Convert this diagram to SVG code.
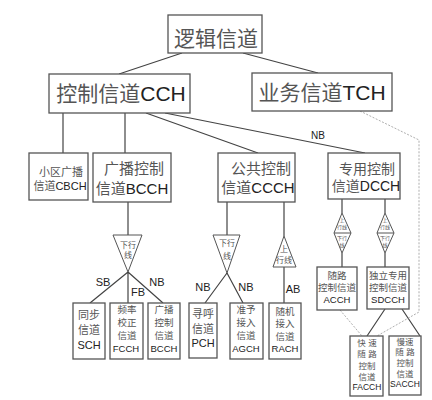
<svg xmlns="http://www.w3.org/2000/svg" width="432" height="400" viewBox="0 0 432 400">
<style>
.box{fill:#fff;stroke:#555;stroke-width:1.3}
.ln{stroke:#444;stroke-width:1.2;fill:none}
.tri{fill:#fff;stroke:#555;stroke-width:1}
.dot{stroke:#999;stroke-width:0.8;fill:none;stroke-dasharray:2,1.5}
text{font-family:'Liberation Sans','Noto Sans CJK SC',sans-serif;fill:#222;text-anchor:middle}
.cj{fill:#555}
.lbl{font-size:11px}
</style>
<rect width="432" height="400" fill="#fff"/>
<g id="connectors">
<path class="ln" d="M182,53L119,74M243,53L318,73M63,113V153M125,113V153M146,113L258,153M165,113L365,153"/>
<path class="ln" d="M128,202V235M128,272L90,303M128,272V303M128,272L163,303"/>
<path class="ln" d="M227,202V235M227,273L205,303M227,273L243,303"/>
<path class="ln" d="M284,202V236M284,267V303"/>
<path class="ln" d="M342,199V213M342,253V267M385,199V213M385,253V267"/>
<path class="ln" d="M385,309L367,336M402,309L420,336"/>
<path class="dot" d="M360,111L419,140V312L377,336M340,310L362,336"/>
<text x="318" y="139" style="font-size:10px">NB</text>
<text x="103" y="286" class="lbl">SB</text>
<text x="138" y="296" class="lbl">FB</text>
<text x="157" y="286" class="lbl">NB</text>
<text x="203" y="291" class="lbl">NB</text>
<text x="246" y="291" class="lbl">NB</text>
<text x="293" y="293" class="lbl">AB</text>
</g>
<g id="tri-bcch">
<polygon class="tri" points="113,235 142,235 128,272"/>
<text x="128" y="248" class="cj" style="font-size:8px">下行</text>
<text x="128" y="258" class="cj" style="font-size:8px">线</text>
</g>
<g id="tri-ccch-down">
<polygon class="tri" points="213,235 240,235 227,273"/>
<text x="227" y="246" class="cj" style="font-size:8px">下行</text>
<text x="227" y="259" class="cj" style="font-size:8px">线</text>
</g>
<g id="tri-ccch-up">
<polygon class="tri" points="284,236 273,267 296,267"/>
<text x="284" y="252" class="cj" style="font-size:8px">上</text>
<text x="284" y="263" class="cj" style="font-size:8px">行线</text>
</g>
<g id="dia-left">
<polygon class="tri" points="342,213 351,233 342,253 334,233"/>
<path class="tri" d="M334,233H351"/>
<text x="342" y="222" class="cj" style="font-size:5px">上</text>
<text x="342" y="229" class="cj" style="font-size:5px">行线</text>
<text x="342" y="240" class="cj" style="font-size:5px">下行</text>
<text x="342" y="247" class="cj" style="font-size:5px">线</text>
</g>
<g id="dia-right">
<polygon class="tri" points="385,213 394,233 385,253 377,233"/>
<path class="tri" d="M377,233H394"/>
<text x="385" y="222" class="cj" style="font-size:5px">上</text>
<text x="385" y="229" class="cj" style="font-size:5px">行线</text>
<text x="385" y="240" class="cj" style="font-size:5px">下行</text>
<text x="385" y="247" class="cj" style="font-size:5px">线</text>
</g>
<g id="n-logic">
<rect class="box" x="168" y="15" width="94" height="38"/>
<text x="216" y="46" class="cj" style="font-size:21px">逻辑信道</text>
</g>
<g id="n-cch">
<rect class="box" x="49" y="74" width="141" height="39"/>
<text x="121" y="101" style="font-size:21px"><tspan class="cj">控制信道</tspan>CCH</text>
</g>
<g id="n-tch">
<rect class="box" x="252" y="73" width="140" height="38"/>
<text x="322" y="100" style="font-size:21px"><tspan class="cj">业务信道</tspan>TCH</text>
</g>
<g id="n-cbch">
<rect class="box" x="29" y="153" width="59" height="47"/>
<text x="61" y="176" class="cj" style="font-size:11px">小区广播</text>
<text x="60" y="190" style="font-size:11px"><tspan class="cj">信道</tspan>CBCH</text>
</g>
<g id="n-bcch">
<rect class="box" x="93" y="153" width="78" height="49"/>
<text x="134" y="174" class="cj" style="font-size:15px">广播控制</text>
<text x="132" y="194" style="font-size:15px"><tspan class="cj">信道</tspan>BCCH</text>
</g>
<g id="n-ccch">
<rect class="box" x="218" y="153" width="77" height="49"/>
<text x="261" y="174" class="cj" style="font-size:15px">公共控制</text>
<text x="258" y="193" style="font-size:15px"><tspan class="cj">信道</tspan>CCCH</text>
</g>
<g id="n-dcch">
<rect class="box" x="328" y="153" width="72" height="46"/>
<text x="367" y="174" class="cj" style="font-size:14px">专用控制</text>
<text x="366" y="191" style="font-size:14px"><tspan class="cj">信道</tspan>DCCH</text>
</g>
<g id="n-sch">
<rect class="box" x="73" y="303" width="32" height="56"/>
<text x="89" y="319" class="cj" style="font-size:11px">同步</text>
<text x="89" y="334" class="cj" style="font-size:11px">信道</text>
<text x="89" y="349" style="font-size:11px">SCH</text>
</g>
<g id="n-fcch">
<rect class="box" x="110" y="303" width="33" height="56"/>
<text x="127" y="313" class="cj" style="font-size:9.5px">频率</text>
<text x="127" y="326" class="cj" style="font-size:9.5px">校正</text>
<text x="127" y="339" class="cj" style="font-size:9.5px">信道</text>
<text x="126" y="352" style="font-size:9.5px">FCCH</text>
</g>
<g id="n-bcch2">
<rect class="box" x="148" y="303" width="32" height="56"/>
<text x="164" y="313" class="cj" style="font-size:9.5px">广播</text>
<text x="164" y="326" class="cj" style="font-size:9.5px">控制</text>
<text x="164" y="339" class="cj" style="font-size:9.5px">信道</text>
<text x="164" y="352" style="font-size:9.5px">BCCH</text>
</g>
<g id="n-pch">
<rect class="box" x="189" y="303" width="28" height="55"/>
<text x="203" y="318" class="cj" style="font-size:11px">寻呼</text>
<text x="203" y="333" class="cj" style="font-size:11px">信道</text>
<text x="203" y="347" style="font-size:11px">PCH</text>
</g>
<g id="n-agch">
<rect class="box" x="230" y="303" width="33" height="56"/>
<text x="246" y="313" class="cj" style="font-size:9.5px">准予</text>
<text x="246" y="326" class="cj" style="font-size:9.5px">接入</text>
<text x="246" y="339" class="cj" style="font-size:9.5px">信道</text>
<text x="246" y="352" style="font-size:9.5px">AGCH</text>
</g>
<g id="n-rach">
<rect class="box" x="269" y="303" width="32" height="56"/>
<text x="285" y="315" class="cj" style="font-size:9.5px">随机</text>
<text x="285" y="327" class="cj" style="font-size:9.5px">接入</text>
<text x="285" y="340" class="cj" style="font-size:9.5px">信道</text>
<text x="285" y="352" style="font-size:9.5px">RACH</text>
</g>
<g id="n-acch">
<rect class="box" x="317" y="267" width="40" height="43"/>
<text x="337" y="279" class="cj" style="font-size:9.5px">随路</text>
<text x="337" y="291" class="cj" style="font-size:9.5px">控制信道</text>
<text x="337" y="303" style="font-size:9.5px">ACCH</text>
</g>
<g id="n-sdcch">
<rect class="box" x="367" y="267" width="42" height="42"/>
<text x="388" y="279" class="cj" style="font-size:9.5px">独立专用</text>
<text x="388" y="291" class="cj" style="font-size:9.5px">控制信道</text>
<text x="388" y="303" style="font-size:9.5px">SDCCH</text>
</g>
<g id="n-facch">
<rect class="box" x="350" y="336" width="33" height="60"/>
<text x="367" y="346" class="cj" style="font-size:8.5px">快 速</text>
<text x="367" y="357" class="cj" style="font-size:8.5px">随 路</text>
<text x="367" y="369" class="cj" style="font-size:8.5px">控制</text>
<text x="367" y="380" class="cj" style="font-size:8.5px">信道</text>
<text x="367" y="390" style="font-size:8.5px">FACCH</text>
</g>
<g id="n-sacch">
<rect class="box" x="389" y="336" width="32" height="59"/>
<text x="405" y="345" class="cj" style="font-size:8.5px">慢速</text>
<text x="405" y="355" class="cj" style="font-size:8.5px">随 路</text>
<text x="405" y="366" class="cj" style="font-size:8.5px">控制</text>
<text x="405" y="377" class="cj" style="font-size:8.5px">信道</text>
<text x="405" y="387" style="font-size:8.5px">SACCH</text>
</g>
</svg>
